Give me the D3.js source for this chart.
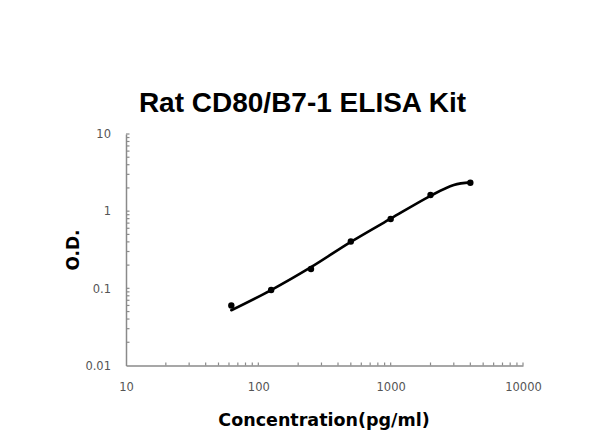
<!DOCTYPE html>
<html><head><meta charset="utf-8">
<script src="https://cdn.jsdelivr.net/npm/d3@7"></script>
<style>body{margin:0;background:#fff}svg{display:block}</style>
</head><body>
<svg id="c" width="600" height="447"></svg>
<script>
const concentrations = [62.5, 125, 250, 500, 1000, 2000, 4000];
const odValues = [0.060, 0.095, 0.178, 0.405, 0.79, 1.62, 2.33];
const curveConc = [62.5, 125, 250, 500, 1000, 2000, 3000, 4000];
const curveOD = [0.052, 0.095, 0.188, 0.40, 0.80, 1.58, 2.18, 2.36];
const xTicks = [10, 100, 1000, 10000];
const yTicks = [0.01, 0.1, 1, 10];
const title = "Rat CD80/B7-1 ELISA Kit";
const xTitle = "Concentration(pg/ml)";
const yTitle = "O.D.";

const svg = d3.select("#c");
const L = 126, R = 523, T = 134, B = 365.5;
const x = d3.scaleLog().domain([10, 10000]).range([L, R]);
const y = d3.scaleLog().domain([0.01, 10]).range([B, T]);
const axisColor = "#8a8a8a";

function minorTicks(domain) {
  const out = [];
  for (let d = domain[0]; d < domain[1]; d *= 10)
    for (let k = 2; k <= 9; k++) out.push(d * k);
  return out;
}

// X axis
const gx = svg.append("g").attr("transform", `translate(0,${B})`);
gx.call(d3.axisBottom(x).tickValues(xTicks).tickSize(0).tickPadding(17).tickFormat(d3.format("d")));
gx.select(".domain").attr("stroke", axisColor).attr("stroke-width", 1.5);
gx.selectAll("text").attr("fill", "#555").style("font-family", "DejaVu Sans, sans-serif").style("font-size", "11.5px");
gx.selectAll(".minor").data(minorTicks([10, 10000]).concat(xTicks.slice(1))).enter().append("line")
  .attr("x1", d => x(d)).attr("x2", d => x(d)).attr("y1", 0).attr("y2", -3)
  .attr("stroke", axisColor).attr("stroke-width", 1.2);

// Y axis
const gy = svg.append("g").attr("transform", `translate(${L},0)`);
gy.call(d3.axisLeft(y).tickValues(yTicks).tickSize(0).tickPadding(15).tickFormat(d => d >= 1 ? d3.format("d")(d) : String(d)));
gy.select(".domain").attr("stroke", axisColor).attr("stroke-width", 1.5);
gy.selectAll("text").attr("fill", "#555").style("font-family", "DejaVu Sans, sans-serif").style("font-size", "11.5px");
gy.selectAll(".minor").data(minorTicks([0.01, 10]).concat(yTicks.slice(1))).enter().append("line")
  .attr("y1", d => y(d)).attr("y2", d => y(d)).attr("x1", 0).attr("x2", 3.5)
  .attr("stroke", axisColor).attr("stroke-width", 1.2);

// Curve
const line = d3.line().x(d => x(d[0])).y(d => y(d[1])).curve(d3.curveCatmullRom.alpha(0.5));
svg.append("path").datum(curveConc.map((c, i) => [c, curveOD[i]]))
  .attr("d", line).attr("fill", "none").attr("stroke", "#000").attr("stroke-width", 2.6)
  .attr("stroke-linecap", "round");

// Points
svg.selectAll(".pt").data(concentrations.map((c, i) => [c, odValues[i]])).enter().append("circle")
  .attr("cx", d => x(d[0])).attr("cy", d => y(d[1])).attr("r", 3.2).attr("fill", "#000");

// Titles
svg.append("text").attr("x", 302.5).attr("y", 111.5).attr("text-anchor", "middle")
  .style("font-family", "Liberation Sans, Arial, sans-serif").style("font-weight", "bold").style("font-size", "28px")
  .text(title);
svg.append("text").attr("x", 324).attr("y", 426).attr("text-anchor", "middle")
  .style("font-family", "DejaVu Sans, sans-serif").style("font-weight", "bold").style("font-size", "17.5px")
  .text(xTitle);
svg.append("text").attr("transform", "translate(79,250) rotate(-90)").attr("text-anchor", "middle")
  .style("font-family", "DejaVu Sans, sans-serif").style("font-weight", "bold").style("font-size", "17px")
  .text(yTitle);
</script>
</body></html>
